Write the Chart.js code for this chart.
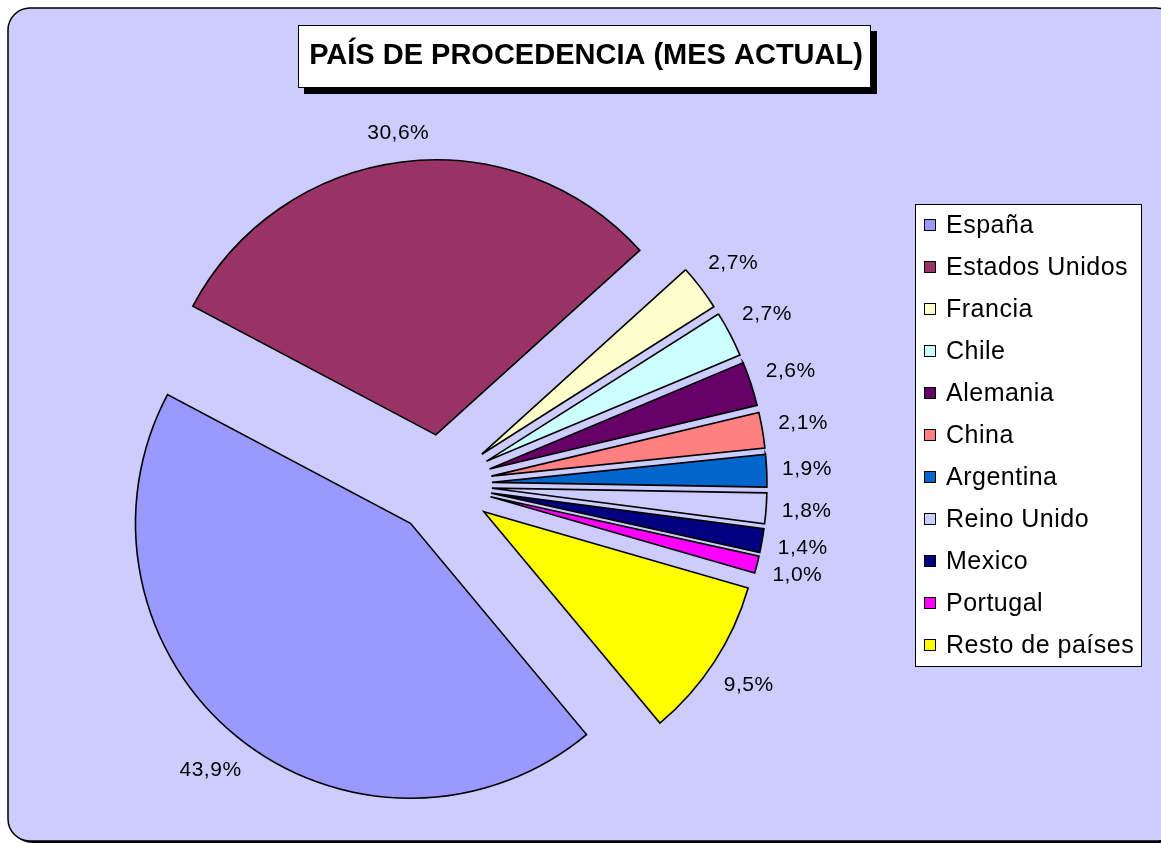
<!DOCTYPE html>
<html>
<head>
<meta charset="utf-8">
<script src="https://cdn.jsdelivr.net/npm/chart.js@4/dist/chart.umd.min.js"></script>
<style>
  html, body { margin: 0; padding: 0; background: #ffffff; }
  #wrap { width: 1161px; height: 843px; position: relative; }
</style>
</head>
<body>
<div id="wrap"><canvas id="procedencia"></canvas></div>
<script>
// datos (porcentajes)
var paises = ['España', 'Estados Unidos', 'Francia', 'Chile', 'Alemania', 'China', 'Argentina', 'Reino Unido', 'Mexico', 'Portugal', 'Resto de países'];
var porcentajes = [43.9, 30.6, 2.7, 2.7, 2.6, 2.1, 1.9, 1.8, 1.4, 1.0, 9.5];
var colores = ['#9999ff', '#993366', '#ffffcc', '#ccffff', '#660066', '#ff8080', '#0066cc', '#ccccff', '#000080', '#ff00ff', '#ffff00'];
var titulo = 'PAÍS DE PROCEDENCIA (MES ACTUAL)';

var FONDO = '#ccccff';
var SEPARACION = 50;   // desplazamiento de cada porcion (pastel explotado)
var FUENTE = '"Liberation Sans", Arial, sans-serif';

function rectRedondo(ctx, x, y, w, h, r) {
    ctx.beginPath();
    ctx.moveTo(x + r, y);
    ctx.lineTo(x + w - r, y);
    ctx.arcTo(x + w, y, x + w, y + r, r);
    ctx.lineTo(x + w, y + h - r);
    ctx.arcTo(x + w, y + h, x + w - r, y + h, r);
    ctx.lineTo(x + r, y + h);
    ctx.arcTo(x, y + h, x, y + h - r, r);
    ctx.lineTo(x, y + r);
    ctx.arcTo(x, y, x + r, y, r);
    ctx.closePath();
}

// marco, titulo y leyenda al estilo Excel
var marco = {
    id: 'marco',
    beforeDraw: function (chart) {
        var ctx = chart.ctx;
        ctx.save();
        // area del grafico
        rectRedondo(ctx, 10, 10, 1170, 833, 22);
        ctx.fillStyle = '#000';
        ctx.fill();
        rectRedondo(ctx, 8, 8, 1170, 833, 22);
        ctx.fillStyle = FONDO;
        ctx.fill();
        ctx.lineWidth = 1.5;
        ctx.strokeStyle = '#000';
        ctx.stroke();

        // titulo
        ctx.fillStyle = '#000';
        ctx.fillRect(304, 31, 573, 63);
        ctx.fillStyle = '#fff';
        ctx.fillRect(298, 25, 572, 62);
        ctx.lineWidth = 1;
        ctx.strokeRect(298.5, 25.5, 572, 62);
        ctx.fillStyle = '#000';
        ctx.font = 'bold 29px ' + FUENTE;
        ctx.textAlign = 'center';
        ctx.textBaseline = 'middle';
        ctx.fillText(titulo, 586, 56);
        ctx.restore();
    },
    afterDraw: function (chart) {
        var ctx = chart.ctx;
        ctx.save();
        ctx.fillStyle = '#fff';
        ctx.fillRect(915, 204, 226, 462);
        ctx.strokeStyle = '#000';
        ctx.lineWidth = 1;
        ctx.strokeRect(915.5, 204.5, 226, 462);
        ctx.font = '25px ' + FUENTE;
        ctx.letterSpacing = '0.5px';
        ctx.textAlign = 'left';
        ctx.textBaseline = 'middle';
        chart.data.labels.forEach(function (lab, i) {
            var y = 225 + i * 42;
            ctx.fillStyle = chart.data.datasets[0].backgroundColor[i];
            ctx.fillRect(924, y - 6, 12, 12);
            ctx.strokeRect(924.5, y - 5.5, 11, 11);
            ctx.fillStyle = '#000';
            ctx.fillText(lab, 946, y + 1);
        });
        ctx.restore();
    }
};

// separa las porciones y escribe los porcentajes
var porciones = {
    id: 'porciones',
    beforeDatasetDraw: function (chart, args) {
        var a = chart.chartArea;
        var cx = (a.left + a.right) / 2, cy = (a.top + a.bottom) / 2;
        args.meta.data.forEach(function (arc) {
            var mid = (arc.startAngle + arc.endAngle) / 2;
            arc.x = cx + Math.cos(mid) * SEPARACION;
            arc.y = cy + Math.sin(mid) * SEPARACION;
        });
    },
    afterDatasetsDraw: function (chart) {
        var ctx = chart.ctx;
        var meta = chart.getDatasetMeta(0);
        var vals = chart.data.datasets[0].data;
        ctx.save();
        ctx.font = '21px ' + FUENTE;
        ctx.letterSpacing = '0.5px';
        ctx.fillStyle = '#000';
        ctx.textAlign = 'center';
        ctx.textBaseline = 'middle';
        meta.data.forEach(function (arc, i) {
            var mid = (arc.startAngle + arc.endAngle) / 2;
            var txt = vals[i].toFixed(1).replace('.', ',') + '%';
            var w = ctx.measureText(txt).width, h = 20;
            var c = Math.cos(mid), s = Math.sin(mid);
            var d = arc.outerRadius + 15 + Math.abs(c) * w / 2 + Math.abs(s) * h / 2;
            ctx.fillText(txt, arc.x + c * d, arc.y + s * d);
        });
        ctx.restore();
    }
};

var ctx = document.getElementById('procedencia').getContext('2d');
var pie = new Chart(ctx, {
    type: 'pie',
    data: {
        labels: paises,
        datasets: [{
            data: porcentajes,
            backgroundColor: colores,
            borderColor: '#000000',
            borderWidth: 1.6,
            borderJoinStyle: 'miter',
            clip: false
        }]
    },
    options: {
        responsive: true,
        maintainAspectRatio: false,
        animation: false,
        events: [],
        rotation: 140.2,
        radius: 275,
        layout: {
            padding: { left: 10, right: 287, top: 130, bottom: 4 }
        },
        plugins: {
            legend: { display: false },
            title: { display: false },
            tooltip: { enabled: false }
        }
    },
    plugins: [marco, porciones]
});
</script>
</body>
</html>
